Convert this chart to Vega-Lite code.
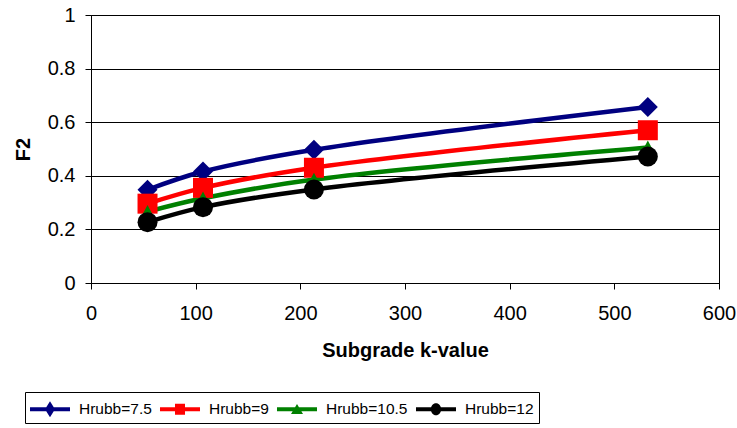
{
  "$schema": "https://vega.github.io/schema/vega-lite/v6.json",
  "width": 628,
  "height": 268,
  "autosize": {"type": "none"},
  "padding": {"left": 91, "top": 15, "right": 18, "bottom": 145},
  "background": "white",
  "config": {
    "view": {"stroke": "black", "strokeWidth": 1},
    "font": "Liberation Sans",
    "axis": {
      "domainColor": "black",
      "tickColor": "black",
      "gridColor": "black",
      "gridOpacity": 1,
      "gridWidth": 1,
      "labelColor": "black",
      "labelFont": "Liberation Sans",
      "labelFontSize": 20,
      "titleFont": "Liberation Sans",
      "titleFontSize": 20,
      "titleFontWeight": "bold",
      "titleColor": "black",
      "tickSize": 6
    },
    "legend": {
      "orient": "none",
      "legendX": -66,
      "legendY": 377,
      "direction": "horizontal",
      "strokeColor": "black",
      "padding": 5,
      "symbolSize": 576,
      "symbolOffset": 8,
      "symbolStrokeWidth": 0,
      "symbolOpacity": 1,
      "labelFont": "Liberation Sans",
      "labelFontSize": 15.5,
      "labelColor": "black",
      "labelOffset": 17,
      "columnPadding": 7
    }
  },
  "data": {
    "values": [
      {"k": 54, "F2": 0.348, "series": "Hrubb=7.5"},
      {"k": 107, "F2": 0.416, "series": "Hrubb=7.5"},
      {"k": 213, "F2": 0.497, "series": "Hrubb=7.5"},
      {"k": 532, "F2": 0.657, "series": "Hrubb=7.5"},
      {"k": 54, "F2": 0.296, "series": "Hrubb=9"},
      {"k": 107, "F2": 0.355, "series": "Hrubb=9"},
      {"k": 213, "F2": 0.43, "series": "Hrubb=9"},
      {"k": 532, "F2": 0.57, "series": "Hrubb=9"},
      {"k": 54, "F2": 0.266, "series": "Hrubb=10.5"},
      {"k": 107, "F2": 0.316, "series": "Hrubb=10.5"},
      {"k": 213, "F2": 0.386, "series": "Hrubb=10.5"},
      {"k": 532, "F2": 0.506, "series": "Hrubb=10.5"},
      {"k": 54, "F2": 0.227, "series": "Hrubb=12"},
      {"k": 107, "F2": 0.283, "series": "Hrubb=12"},
      {"k": 213, "F2": 0.349, "series": "Hrubb=12"},
      {"k": 532, "F2": 0.472, "series": "Hrubb=12"}
    ]
  },
  "encoding": {
    "x": {
      "field": "k",
      "type": "quantitative",
      "scale": {"domain": [0, 600], "nice": false, "zero": false},
      "axis": {
        "title": "Subgrade k-value",
        "values": [0, 100, 200, 300, 400, 500, 600],
        "grid": false,
        "labelPadding": 14,
        "titlePadding": 17,
        "labelFlush": false
      }
    },
    "y": {
      "field": "F2",
      "type": "quantitative",
      "scale": {"domain": [0, 1], "nice": false},
      "axis": {
        "title": "F2",
        "format": "~g",
        "values": [0, 0.2, 0.4, 0.6, 0.8, 1],
        "grid": true,
        "labelPadding": 10,
        "titlePadding": 14,
        "labelFlush": false
      }
    }
  },
  "resolve": {
    "scale": {"color": "independent", "shape": "independent"},
    "legend": {"color": "independent", "shape": "independent"}
  },
  "layer": [
    {
      "mark": {"type": "line", "interpolate": "catmull-rom", "strokeWidth": 4.5},
      "encoding": {
        "stroke": {
          "field": "series",
          "type": "nominal",
          "scale": {
            "domain": ["Hrubb=12", "Hrubb=10.5", "Hrubb=9", "Hrubb=7.5"],
            "range": ["#000000", "#008000", "#FF0000", "#000080"]
          },
          "legend": null
        },
        "detail": {"field": "series"}
      }
    },
    {
      "mark": {"type": "point", "filled": true, "opacity": 1, "strokeWidth": 0, "size": 400},
      "encoding": {
        "shape": {
          "field": "series",
          "type": "nominal",
          "scale": {
            "domain": ["Hrubb=12", "Hrubb=10.5", "Hrubb=9", "Hrubb=7.5"],
            "range": ["circle", "M0,-0.68L0.64,0.52H-0.64Z", "square", "diamond"]
          },
          "legend": null
        },
        "color": {
          "field": "series",
          "type": "nominal",
          "scale": {
            "domain": ["Hrubb=12", "Hrubb=10.5", "Hrubb=9", "Hrubb=7.5"],
            "range": ["#000000", "#008000", "#FF0000", "#000080"]
          },
          "legend": null
        }
      }
    },
    {
      "mark": {"type": "point", "filled": true, "opacity": 1, "strokeWidth": 0, "size": 0},
      "encoding": {
        "shape": {
          "field": "series",
          "type": "nominal",
          "scale": {
            "domain": ["Hrubb=7.5", "Hrubb=9", "Hrubb=10.5", "Hrubb=12"],
            "range": [
              "M-1.667,-0.167H1.667V0.167H-1.667Z M0,-0.667L0.417,0L0,0.667L-0.417,0Z",
              "M-1.667,-0.167H1.667V0.167H-1.667Z M-0.417,-0.467H0.417V0.467H-0.417Z",
              "M-1.667,-0.167H1.667V0.167H-1.667Z M0,-0.433L0.5,0.4H-0.5Z",
              "M-1.667,-0.167H1.667V0.167H-1.667Z M-0.433,0A0.433,0.5 0 1,1 0.433,0A0.433,0.5 0 1,1 -0.433,0Z"
            ]
          },
          "legend": {
            "title": null,
            "orient": "none",
            "legendX": -66,
            "legendY": 377,
            "direction": "horizontal"
          }
        },
        "color": {
          "field": "series",
          "type": "nominal",
          "scale": {
            "domain": ["Hrubb=7.5", "Hrubb=9", "Hrubb=10.5", "Hrubb=12"],
            "range": ["#000080", "#FF0000", "#008000", "#000000"]
          },
          "legend": {
            "title": null,
            "orient": "none",
            "legendX": -66,
            "legendY": 377,
            "direction": "horizontal"
          }
        }
      }
    }
  ]
}
